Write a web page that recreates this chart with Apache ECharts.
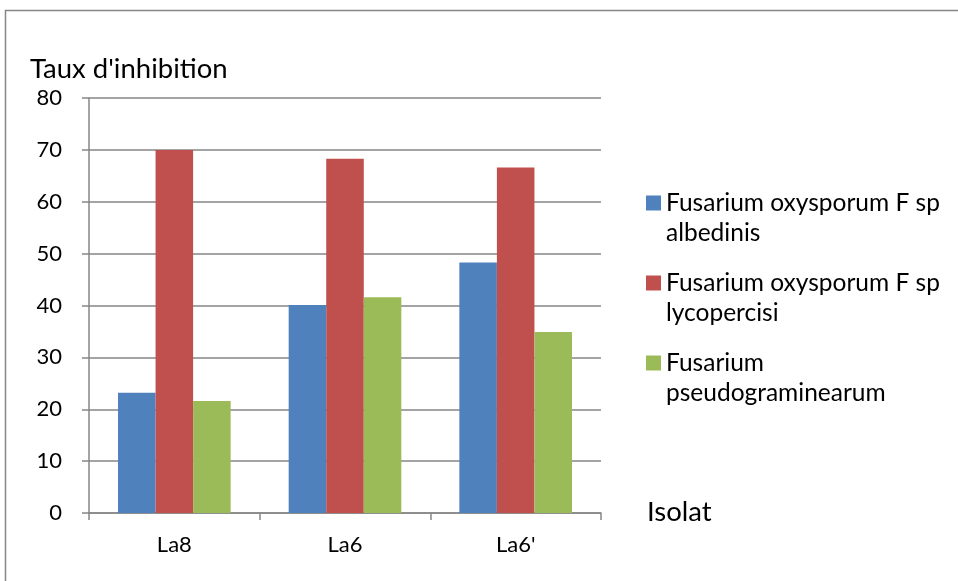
<!DOCTYPE html>
<html>
<head>
<meta charset="utf-8">
<script src="https://cdn.jsdelivr.net/npm/echarts@6/dist/echarts.min.js"></script>
<style>html,body{margin:0;padding:0;background:#fff;}#c{width:958px;height:581px;}</style>
</head>
<body>
<div id="c"></div>
<script>
const categories = ["La8", "La6", "La6'"];
const seriesNames = [
  "Fusarium oxysporum F sp\nalbedinis",
  "Fusarium oxysporum F sp\nlycopercisi",
  "Fusarium\npseudograminearum"
];
const albedinis = [23.2, 40.1, 48.3];
const lycopercisi = [70.0, 68.3, 66.6];
const pseudograminearum = [21.6, 41.6, 34.9];
const colors = ["#4F81BD", "#C0504D", "#9BBB59"];
const yTicks = { min: 0, max: 80, interval: 10 };

const FONT = "Lato";
const chart = echarts.init(document.getElementById('c'));
const values = [albedinis, lycopercisi, pseudograminearum];
chart.setOption({
  animation: false,
  textStyle: { fontFamily: FONT, color: '#000' },
  grid: { left: 89, right: 357, top: 98, bottom: 68, containLabel: false },
  graphic: [
    { type: 'rect', shape: { x: 5.5, y: 10.5, width: 1000, height: 1000 },
      style: { fill: 'none', stroke: '#868686', lineWidth: 1.5 }, silent: true },
    { type: 'text', x: 30, y: 69,
      style: { text: "Taux d'inhibition", font: '27.5px Lato', fill: '#000', verticalAlign: 'middle' } },
    { type: 'text', x: 647, y: 512,
      style: { text: "Isolat", font: '27.5px Lato', fill: '#000', verticalAlign: 'middle' } }
  ],
  legend: {
    orient: 'vertical', left: 646, top: 158, padding: 0, itemWidth: 15, itemHeight: 15,
    itemGap: -10, icon: 'rect',
    data: seriesNames,
    formatter: n => '\n' + n,
    textStyle: { fontFamily: FONT, fontSize: 24.5, lineHeight: 30, color: '#000' }
  },
  xAxis: {
    type: 'category', data: categories,
    axisLine: { lineStyle: { color: '#868686', width: 1.5 } },
    axisTick: { show: true, alignWithLabel: false, length: 7, lineStyle: { color: '#868686', width: 1.5 } },
    axisLabel: { fontFamily: FONT, fontSize: 22, color: '#000', margin: 21 },
    splitLine: { show: false }
  },
  yAxis: {
    type: 'value', min: yTicks.min, max: yTicks.max, interval: yTicks.interval,
    axisLine: { show: true, lineStyle: { color: '#868686', width: 1.5 } },
    axisTick: { show: true, length: 7, lineStyle: { color: '#868686', width: 1.5 } },
    axisLabel: { fontFamily: FONT, fontSize: 22, color: '#000', margin: 27 },
    splitLine: { show: true, lineStyle: { color: '#868686', width: 1.5 } }
  },
  series: seriesNames.map((n, i) => ({
    name: n, type: 'bar', data: values[i], barGap: '0%', barCategoryGap: '34%',
    itemStyle: { color: colors[i] }
  }))
});
</script>
</body>
</html>
